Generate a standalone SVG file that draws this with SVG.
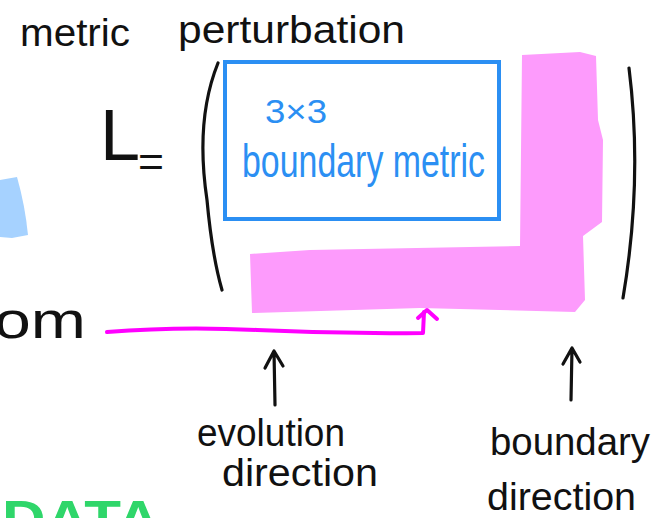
<svg xmlns="http://www.w3.org/2000/svg" width="655" height="518" viewBox="0 0 655 518">
<style>
.hw{font-family:"Liberation Sans","DejaVu Sans",sans-serif;fill:#111}
.bl{font-family:"Liberation Sans","DejaVu Sans",sans-serif;fill:#2b8ff3}
.ink{fill:none;stroke:#111;stroke-width:3.2;stroke-linecap:round;stroke-linejoin:round}
.mag{fill:none;stroke:#f0f;stroke-width:4;stroke-linecap:round;stroke-linejoin:round}
</style>
<rect width="655" height="518" fill="#fff"/>
<g id="title">
<text class="hw" x="20" y="46" font-size="38" textLength="110" lengthAdjust="spacingAndGlyphs">metric</text>
<text class="hw" x="178" y="43" font-size="38" textLength="227" lengthAdjust="spacingAndGlyphs">perturbation</text>
</g>
<g id="left-fragments">
<path d="M0,180 L17,177 Q25,205 28,235 L12,238 L0,237 Z" fill="#a6d2ff"/>
<text class="hw" x="-6" y="338" font-size="52" textLength="92" lengthAdjust="spacingAndGlyphs">om</text>
<text x="2" y="537" font-family="Liberation Sans, sans-serif" font-weight="bold" font-size="52" fill="#2fd66a" textLength="158" lengthAdjust="spacingAndGlyphs">DATA</text>
</g>
<g id="lhs">
<text class="hw" x="100" y="160" font-size="72">L</text>
<text class="hw" x="138" y="176" font-size="42" textLength="26" lengthAdjust="spacingAndGlyphs">=</text>
</g>
<g id="matrix">
<path class="ink" d="M218,63 Q195,120 207,200 Q212,255 222,290"/>
<path class="ink" d="M629,68 Q643,180 623,298"/>
<path d="M250,254 L310,250 L520,246 L522,55 L580,52 L596,56 L598,120 L603,140 L602,222 L583,236 L585,300 L575,312 L420,308 L252,313 Z" fill="#fd9bfc"/>
</g>
<g id="boundary-metric">
<rect x="225" y="62" width="274" height="157" fill="none" stroke="#2b8ff3" stroke-width="4"/>
<text class="bl" x="265" y="123" font-size="34" textLength="62" lengthAdjust="spacingAndGlyphs">3×3</text>
<text class="bl" x="242" y="177" font-size="46" textLength="243" lengthAdjust="spacingAndGlyphs">boundary metric</text>
</g>
<g id="labels">
<text class="hw" x="197" y="446" font-size="38" textLength="148" lengthAdjust="spacingAndGlyphs">evolution</text>
<text class="hw" x="222" y="486" font-size="38" textLength="156" lengthAdjust="spacingAndGlyphs">direction</text>
<text class="hw" x="490" y="455" font-size="38" textLength="160" lengthAdjust="spacingAndGlyphs">boundary</text>
<text class="hw" x="487" y="510" font-size="38" textLength="149" lengthAdjust="spacingAndGlyphs">direction</text>
</g>
<g id="connectors">
<path class="mag" d="M107,332 Q180,326 257,330 Q340,334 423,333 L424,312"/>
<path class="mag" d="M418,318 L427,310 L437,319"/>
<path class="ink" d="M275,405 L274,351 M265,368 L274,351 L283,366"/>
<path class="ink" d="M571,400 L572,348 M563,364 L572,348 L580,362"/>
</g>
</svg>
